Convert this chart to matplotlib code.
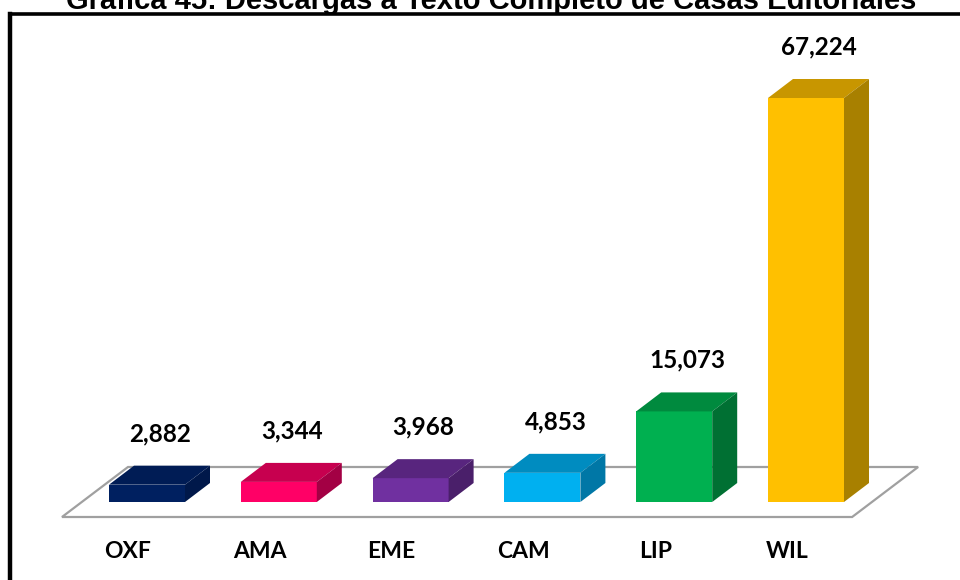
import matplotlib.pyplot as plt
from matplotlib.patches import Polygon
from matplotlib.lines import Line2D
from matplotlib.transforms import IdentityTransform

# downloads per publisher
editoriales = ['OXF', 'AMA', 'EME', 'CAM', 'LIP', 'WIL']
descargas = [2882, 3344, 3968, 4853, 15073, 67224]

# front / top / side shades of each bar
frente = ['#002060', '#FF0066', '#7030A0', '#00B0F0', '#00B050', '#FFC000']
tapa = ['#001C55', '#C7004F', '#58257E', '#008CC0', '#008A3E', '#C89600']
lado = ['#00184A', '#A30044', '#4A1F6A', '#0077A6', '#007033', '#A88000']

W, H, DPI = 960, 580, 100
# depth of the bars and of the floor, in pixels
bar_dx, bar_dy = 25, 19
floor_dx, floor_dy = 66, 50
floor_drop = 15

fig = plt.figure(figsize=(W / DPI, H / DPI), dpi=DPI)
fig.patch.set_facecolor('white')

# axes placed so that value 0 sits on the bar base line
y0_px, ytop_px = 502, 40
ymax = 67224 * (y0_px - ytop_px) / (502 - 98)
ax = fig.add_axes([0, (H - y0_px) / H, 1, (y0_px - ytop_px) / H])
ax.set_xlim(-147 / 131.8, (W - 147) / 131.8)
ax.set_ylim(0, ymax)
ax.axis('off')

width = 76 / 131.8
bars = ax.bar(range(len(descargas)), descargas, width=width, color=frente,
              zorder=3, linewidth=0)

ident = IdentityTransform()


def px(x, y):
    return ax.transData.transform((x, y))


# floor parallelogram under the bars
fl_x0, fl_y0 = px(-0.5 - 0.145, 0)
fl_x1, _ = px(len(descargas) - 0.5 - 0.15, 0)
fl_y0 -= floor_drop
floor = Polygon([(fl_x0, fl_y0), (fl_x1, fl_y0),
                 (fl_x1 + floor_dx, fl_y0 + floor_dy),
                 (fl_x0 + floor_dx, fl_y0 + floor_dy)],
                closed=True, facecolor='white', edgecolor='#A0A0A0',
                linewidth=1.6, transform=ident, zorder=1, clip_on=False)
ax.add_patch(floor)

for i, (b, v) in enumerate(zip(bars, descargas)):
    xl, yb = px(b.get_x(), 0)
    xr, yt = px(b.get_x() + b.get_width(), v)
    top = Polygon([(xl, yt), (xr, yt), (xr + bar_dx, yt + bar_dy),
                   (xl + bar_dx, yt + bar_dy)], closed=True,
                  facecolor=tapa[i], edgecolor='none', transform=ident,
                  zorder=3, clip_on=False)
    side = Polygon([(xr, yb), (xr + bar_dx, yb + bar_dy),
                    (xr + bar_dx, yt + bar_dy), (xr, yt)], closed=True,
                   facecolor=lado[i], edgecolor='none', transform=ident,
                   zorder=3, clip_on=False)
    ax.add_patch(top)
    ax.add_patch(side)

    ax.annotate(f'{v:,}', xy=(i, v), xytext=(13, 51),
                textcoords='offset pixels', ha='center', va='center',
                fontsize=17.5, fontweight='bold', family='Lato', color='black',
                annotation_clip=False)
    ax.annotate(editoriales[i], xy=(i, 0), xytext=(-19, -50),
                textcoords='offset pixels', ha='center', va='center',
                fontsize=16.5, fontweight='bold', family='Lato', color='black',
                annotation_clip=False)

# chart frame, open on the right and bottom
fig.add_artist(Line2D([9.7 / W, 9.7 / W], [0, 1 - 13.7 / H], color='black',
                      linewidth=3.2, transform=fig.transFigure,
                      solid_capstyle='projecting'))
fig.add_artist(Line2D([9.7 / W, 1], [1 - 13.7 / H, 1 - 13.7 / H], color='black',
                      linewidth=2.6, transform=fig.transFigure,
                      solid_capstyle='projecting'))

fig.text(491 / W, 1 - 9 / H,
         'Gráfica 45: Descargas a Texto Completo de Casas Editoriales',
         ha='center', va='baseline', fontsize=21, fontweight='bold',
         family='Liberation Sans', color='black')

fig.savefig('out.png', dpi=DPI, facecolor='white')
